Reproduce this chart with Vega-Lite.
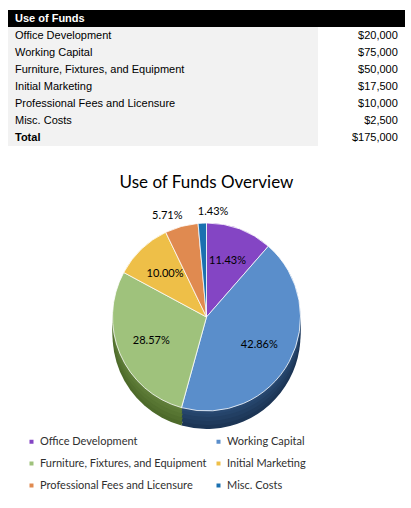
{
  "$schema": "https://vega.github.io/schema/vega-lite/v6.json",
  "padding": {"left": 8, "right": 6, "top": 10, "bottom": 0},
  "background": "white",
  "spacing": 28,
  "config": {"view": {"stroke": null}, "font": "Liberation Sans"},
  "datasets": {
    "funds": [
      {"row": 0, "item": "Use of Funds", "amount": null, "pct": null, "kind": "header"},
      {"row": 1, "item": "Office Development", "amount": 20000, "pct": 0.1143, "kind": "item"},
      {"row": 2, "item": "Working Capital", "amount": 75000, "pct": 0.4286, "kind": "item"},
      {"row": 3, "item": "Furniture, Fixtures, and Equipment", "amount": 50000, "pct": 0.2857, "kind": "item"},
      {"row": 4, "item": "Initial Marketing", "amount": 17500, "pct": 0.1, "kind": "item"},
      {"row": 5, "item": "Professional Fees and Licensure", "amount": 10000, "pct": 0.0571, "kind": "item"},
      {"row": 6, "item": "Misc. Costs", "amount": 2500, "pct": 0.0143, "kind": "item"},
      {"row": 7, "item": "Total", "amount": 175000, "pct": null, "kind": "total"}
    ]
  },
  "vconcat": [
    {
      "width": 397,
      "height": 136,
      "data": {"name": "funds"},
      "encoding": {
        "y": {"field": "row", "type": "ordinal", "axis": null, "scale": {"paddingInner": 0, "paddingOuter": 0}}
      },
      "layer": [
        {
          "transform": [{"filter": "datum.kind === 'header'"}],
          "mark": {"type": "rect", "color": "black"},
          "encoding": {
            "x": {"datum": 0, "type": "quantitative", "scale": {"domain": [0, 1], "nice": false, "zero": false}, "axis": null},
            "x2": {"datum": 1}
          }
        },
        {
          "transform": [{"filter": "datum.kind !== 'header'"}],
          "mark": {"type": "rect", "color": "#f2f2f2"},
          "encoding": {
            "x": {"datum": 0, "type": "quantitative"},
            "x2": {"datum": 0.781}
          }
        },
        {
          "transform": [{"filter": "datum.kind === 'item'"}],
          "mark": {"type": "text", "align": "left", "baseline": "middle", "fontSize": 11, "color": "black", "font": "Liberation Sans"},
          "encoding": {
            "x": {"datum": 0.0176, "type": "quantitative"},
            "text": {"field": "item", "type": "nominal"}
          }
        },
        {
          "transform": [{"filter": "datum.kind !== 'item'"}],
          "mark": {"type": "text", "align": "left", "baseline": "middle", "fontSize": 11, "fontWeight": "bold", "font": "Liberation Sans"},
          "encoding": {
            "x": {"datum": 0.0176, "type": "quantitative"},
            "text": {"field": "item", "type": "nominal"},
            "color": {"condition": {"test": "datum.kind === 'header'", "value": "white"}, "value": "black"}
          }
        },
        {
          "transform": [{"filter": "datum.kind !== 'header'"}],
          "mark": {"type": "text", "align": "right", "baseline": "middle", "fontSize": 11, "color": "black", "font": "Liberation Sans"},
          "encoding": {
            "x": {"datum": 0.982, "type": "quantitative"},
            "text": {"field": "amount", "type": "quantitative", "format": "$,.0f"}
          }
        }
      ]
    },
    {
      "width": 397,
      "height": 180,
      "title": {"text": "Use of Funds Overview", "font": "Lato", "fontSize": 17, "fontWeight": "normal", "color": "black", "offset": 14, "frame": "group"},
      "data": {"name": "funds"},
      "transform": [{"filter": "datum.kind === 'item'"}],
      "encoding": {
        "theta": {"field": "amount", "type": "quantitative", "stack": true},
        "order": {"field": "row", "type": "ordinal"}
      },
      "layer": [
        {"mark": {"type": "arc", "outerRadius": 94, "yOffset": 18},
         "encoding": {"color": {"field": "item", "type": "nominal", "sort": null, "legend": null, "scale": {"range": ["#4e2275", "#1c3555", "#4d6a2a", "#a07a1a", "#8a3e10", "#0b3a60"]}}}},
        {"mark": {"type": "arc", "outerRadius": 94, "yOffset": 14},
         "encoding": {"color": {"field": "item", "type": "nominal", "sort": null, "legend": null, "scale": {"range": ["#4e2275", "#1f3a5c", "#526f2e", "#a07a1a", "#8a3e10", "#0b3a60"]}}}},
        {"mark": {"type": "arc", "outerRadius": 94, "yOffset": 10},
         "encoding": {"color": {"field": "item", "type": "nominal", "sort": null, "legend": null, "scale": {"range": ["#4e2275", "#223f63", "#577532", "#a07a1a", "#8a3e10", "#0b3a60"]}}}},
        {"mark": {"type": "arc", "outerRadius": 94, "yOffset": 6},
         "encoding": {"color": {"field": "item", "type": "nominal", "sort": null, "legend": null, "scale": {"range": ["#4e2275", "#25446a", "#5c7a36", "#a07a1a", "#8a3e10", "#0b3a60"]}}}},
        {"mark": {"type": "arc", "outerRadius": 94, "yOffset": 3},
         "encoding": {"color": {"field": "item", "type": "nominal", "sort": null, "legend": null, "scale": {"range": ["#4e2275", "#284870", "#607e3a", "#a07a1a", "#8a3e10", "#0b3a60"]}}}},
        {"mark": {"type": "arc", "outerRadius": 94, "stroke": "white", "strokeWidth": 0.8},
         "encoding": {"color": {"field": "item", "type": "nominal", "sort": null,
           "scale": {"range": ["#8445c4", "#5a8ecb", "#9fc27c", "#eebf48", "#e08a50", "#1a70b0"]},
           "legend": {"orient": "bottom", "columns": 2, "title": null, "symbolType": "square", "symbolSize": 16, "symbolStrokeWidth": 0,
             "labelFont": "Lato", "labelFontSize": 11, "labelLimit": 0, "labelOffset": 3, "labelColor": "#303030", "rowPadding": 10, "columnPadding": 6,
             "padding": 18, "offset": 11}}}},
        {"mark": {"type": "text", "radius": 60, "font": "Lato", "fontSize": 11, "color": "black"},
         "encoding": {"text": {"field": "pct", "type": "quantitative", "format": ".2%"},
           "opacity": {"condition": {"test": "datum.pct > 0.08", "value": 1}, "value": 0}}},
        {"mark": {"type": "text", "radius": 105, "font": "Lato", "fontSize": 11, "color": "black", "align": "right", "dx": 4},
         "encoding": {"text": {"field": "pct", "type": "quantitative", "format": ".2%"},
           "opacity": {"condition": {"test": "datum.item === 'Professional Fees and Licensure'", "value": 1}, "value": 0}}},
        {"mark": {"type": "text", "radius": 105, "font": "Lato", "fontSize": 11, "color": "black", "align": "left", "dx": -4},
         "encoding": {"text": {"field": "pct", "type": "quantitative", "format": ".2%"},
           "opacity": {"condition": {"test": "datum.item === 'Misc. Costs'", "value": 1}, "value": 0}}}
      ],
      "resolve": {"scale": {"color": "independent"}}
    }
  ]
}
